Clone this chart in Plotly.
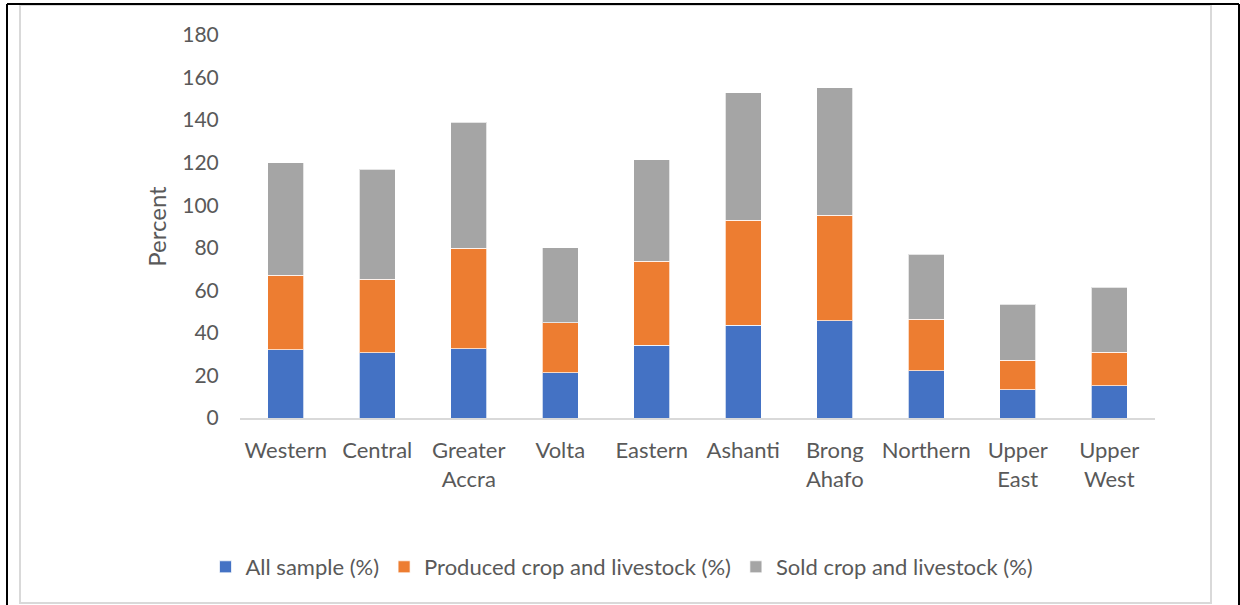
import plotly.graph_objects as go

# Regions of Ghana and the stacked shares for each
regions = ["Western", "Central", "Greater<br>Accra", "Volta", "Eastern",
           "Ashanti", "Brong<br>Ahafo", "Northern", "Upper<br>East", "Upper<br>West"]
all_sample = [32.0, 30.7, 32.5, 21.3, 34.2, 43.5, 45.8, 22.3, 13.2, 15.2]
produced = [35.0, 34.4, 47.3, 23.4, 39.4, 49.4, 49.4, 24.0, 13.9, 15.7]
sold = [53.0, 51.8, 59.2, 35.4, 47.8, 60.0, 59.9, 30.7, 26.4, 30.6]

series_names = ["All sample (%)", "Produced crop and livestock (%)", "Sold crop and livestock (%)"]
series_values = [all_sample, produced, sold]
series_colors = ["#4472C4", "#ED7D31", "#A5A5A5"]

y_ticks = [0, 20, 40, 60, 80, 100, 120, 140, 160, 180]

W, H = 1240, 605
ML, MR, MT, MB = 240, 85, 35, 187
PW, PH = W - ML - MR, H - MT - MB

fig = go.Figure()
for name, vals, col in zip(series_names, series_values, series_colors):
    fig.add_trace(go.Bar(
        x=regions, y=vals, name=name,
        marker=dict(color=col, line=dict(color="rgba(255,255,255,0.7)", width=1)),
    ))

def px_x(p):
    return (p - ML) / PW

def px_y(p):
    return (H - MB - p) / PH

font_family = "Lato, Carlito, Calibri, sans-serif"
text_color = "#595959"
shapes = [
    # inner light frame
    dict(type="rect", xref="paper", yref="paper",
         x0=px_x(20), x1=px_x(1211), y0=px_y(603), y1=px_y(5),
         line=dict(color="#d9d9d9", width=2), fillcolor="rgba(0,0,0,0)", layer="below"),
    # outer dark frame
    dict(type="line", xref="paper", yref="paper",
         x0=px_x(7), x1=px_x(1239), y0=px_y(4), y1=px_y(4),
         line=dict(color="#000000", width=2)),
    dict(type="line", xref="paper", yref="paper",
         x0=px_x(7), x1=px_x(7), y0=px_y(4), y1=px_y(606),
         line=dict(color="#000000", width=2)),
    dict(type="line", xref="paper", yref="paper",
         x0=px_x(1239), x1=px_x(1239), y0=px_y(4), y1=px_y(606),
         line=dict(color="#000000", width=2)),
]

fig.update_layout(
    width=W, height=H,
    margin=dict(l=ML, r=MR, t=MT, b=MB, autoexpand=False),
    barmode="stack", bargap=0.61,
    plot_bgcolor="white", paper_bgcolor="white",
    font=dict(family=font_family, size=22, color=text_color),
    showlegend=True,
    legend=dict(orientation="h", x=px_x(622), xanchor="center", y=px_y(567), yanchor="middle",
                font=dict(size=22, color=text_color), itemwidth=30,
                traceorder="normal"),
    shapes=shapes,
)
fig.update_xaxes(
    showgrid=False, showline=True, linecolor="#d9d9d9", linewidth=2,
    ticks="outside", ticklen=12, tickcolor="rgba(0,0,0,0)",
    tickfont=dict(size=22, color=text_color), fixedrange=True,
)
fig.update_yaxes(
    range=[0, 180], tickvals=y_ticks, showgrid=False, showline=False, zeroline=False,
    ticks="outside", ticklen=16, tickcolor="rgba(0,0,0,0)",
    tickfont=dict(size=21, color=text_color),
    title=dict(text="Percent", font=dict(size=24, color=text_color), standoff=8),
    fixedrange=True,
)

fig.write_html("out.html")
